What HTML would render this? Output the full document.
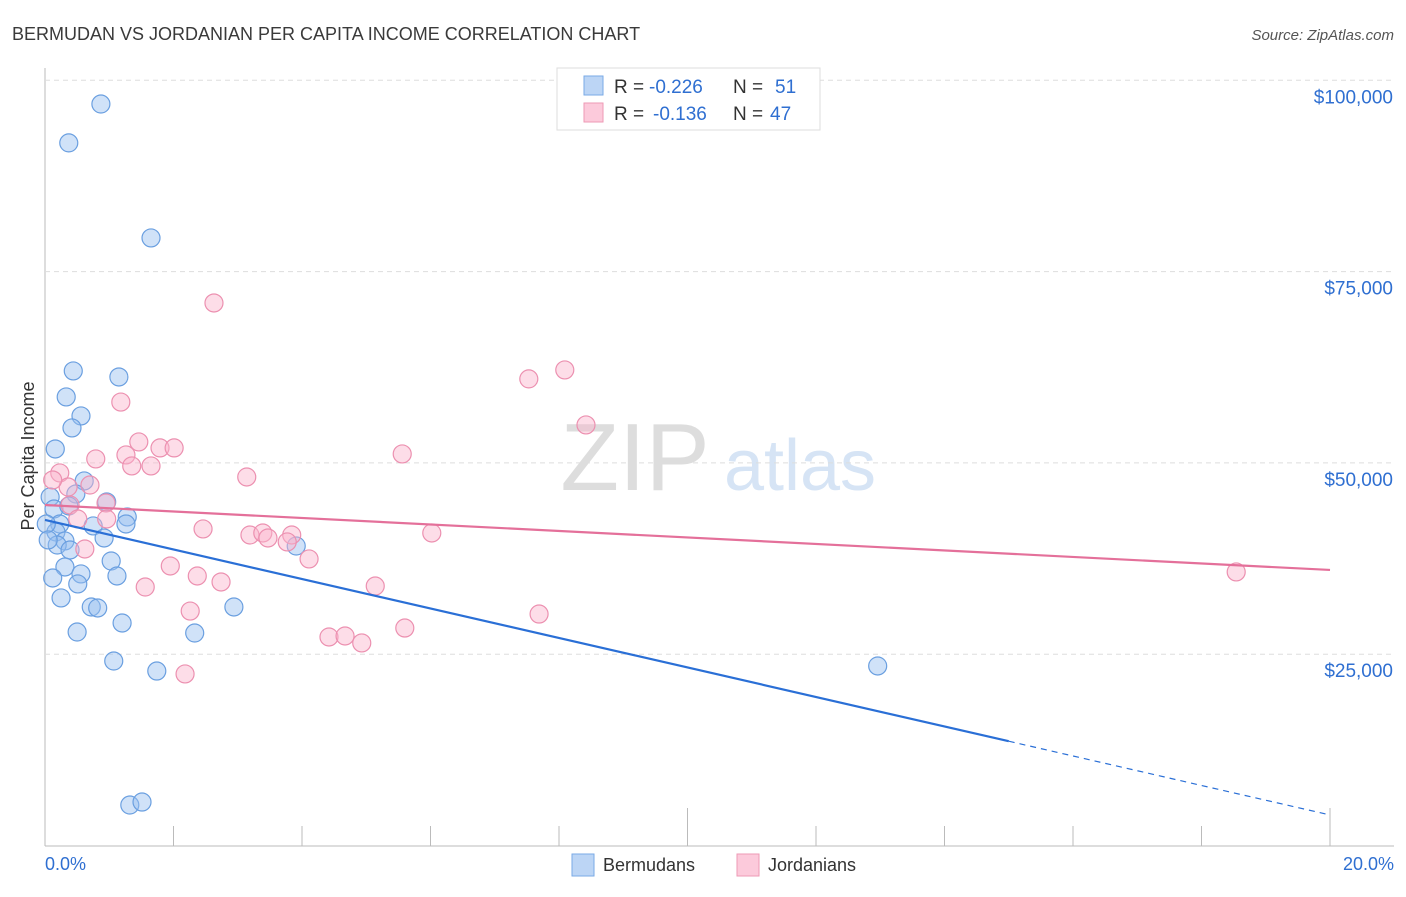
<!DOCTYPE html>
<html><head><meta charset="utf-8"><style>
body{margin:0;background:#fff;font-family:"Liberation Sans",sans-serif}
svg text{font-family:"Liberation Sans",sans-serif}
</style></head><body>
<svg id="c" width="1406" height="892" xmlns="http://www.w3.org/2000/svg">
<text x="12" y="40" font-size="18" fill="#3a3a3a" font-weight="300">BERMUDAN VS JORDANIAN PER CAPITA INCOME CORRELATION CHART</text>
<text x="1394" y="40" font-size="15" fill="#555" font-style="italic" text-anchor="end">Source: ZipAtlas.com</text>
<text x="635" y="490" font-size="96" fill="#ddd" font-family="Liberation Serif" text-anchor="middle">ZIP</text>
<text x="800" y="490" font-size="72" fill="#d6e4f5" text-anchor="middle">atlas</text>
<text transform="translate(34,456) rotate(-90)" font-size="18" fill="#333" text-anchor="middle">Per Capita Income</text>
<g id="grid"></g><g id="pts"></g><g id="trend"></g>
<g>
<rect x="557" y="68" width="263" height="62" fill="#fff" stroke="#ddd"/>
<rect x="584" y="76" width="19" height="19" fill="#bcd5f5" stroke="#7aaae6"/>
<rect x="584" y="103" width="19" height="19" fill="#fccadb" stroke="#ee9ab5"/>
<text x="614" y="93" font-size="19" fill="#333">R =</text>
<text x="649" y="93" font-size="19" fill="#2f6fd1">-0.226</text>
<text x="733" y="93" font-size="19" fill="#333">N =</text>
<text x="775" y="93" font-size="19" fill="#2f6fd1">51</text>
<text x="614" y="120" font-size="19" fill="#333">R =</text>
<text x="653" y="120" font-size="19" fill="#2f6fd1">-0.136</text>
<text x="733" y="120" font-size="19" fill="#333">N =</text>
<text x="770" y="120" font-size="19" fill="#2f6fd1">47</text>
</g>
<g>
<rect x="572" y="854" width="22" height="22" fill="#bcd5f5" stroke="#7aaae6"/>
<text x="603" y="871" font-size="18" fill="#333">Bermudans</text>
<rect x="737" y="854" width="22" height="22" fill="#fccadb" stroke="#ee9ab5"/>
<text x="768" y="871" font-size="18" fill="#333">Jordanians</text>
</g>
</svg>
<script>
const yTicks=[25000,50000,75000,100000];
const yTickLabels=["$25,000","$50,000","$75,000","$100,000"];
const xTickLabels=["0.0%","20.0%"];
const bermX=[0.87,0.37,1.65,0.44,1.15,0.33,0.56,0.42,0.16,0.61,0.48,0.96,0.08,0.14,0.37,1.28,0.75,1.26,0.23,0.17,0.92,0.31,0.19,0.39,3.91,1.03,0.31,0.56,0.12,1.12,0.51,0.25,0.72,0.82,2.94,1.20,0.50,2.33,1.07,1.74,12.96,1.32,1.51,0.02,0.05];
const bermY=[96900,91820,79400,62020,61230,58620,56140,54570,51820,47640,45940,44900,45550,43980,44370,42940,41760,42020,42020,40970,40190,39800,39270,38620,39140,37180,36400,35490,34960,35220,34180,32350,31170,31040,31170,29080,27900,27770,24110,22800,23460,5290,5680,42020,39930];
const jordX=[2.63,8.09,7.53,1.18,8.42,1.46,1.79,2.01,1.26,0.79,5.56,1.65,1.35,0.23,3.14,0.36,0.70,0.12,0.95,0.39,0.51,0.96,2.46,3.19,3.39,3.47,3.84,3.77,6.02,0.62,4.11,1.95,2.37,2.74,1.56,5.14,2.26,7.69,5.60,4.42,4.67,4.93,2.18,18.54];
const jordY=[70900,62150,60980,57950,54960,52740,51960,51960,51040,50520,51170,49600,49600,48690,48160,46850,47110,47770,44760,44500,42670,42670,41370,40580,40840,40190,40580,39670,40840,38750,37450,36530,35220,34440,33780,33910,30640,30250,28420,27250,27380,26470,22420,35750];
const bermTrend=[42540,3990];
const jordTrend=[44500,36010];
const bermSolidEnd=15;
const NS="http://www.w3.org/2000/svg";
const X=v=>45+v/20*1285, Y=v=>845.5-v/25000*191.3;
function mk(t,a,p){const e=document.createElementNS(NS,t);for(const k in a)e.setAttribute(k,a[k]);p.appendChild(e);return e;}
const g=document.getElementById('grid');
mk('line',{x1:45,y1:68,x2:45,y2:846,stroke:'#bbb'},g);
mk('line',{x1:45,y1:846,x2:1394,y2:846,stroke:'#bbb'},g);
yTicks.forEach((v,i)=>{
 const l=mk('line',{x1:45,y1:Y(v),x2:1394,y2:Y(v),stroke:'#ddd','stroke-dasharray':'5,4'},g);
 
 
 const t=mk('text',{x:1393,y:Y(v)+23,'font-size':19,fill:'#2f6fd1','text-anchor':'end'},g);
 t.textContent=yTickLabels[i];
 
 
});
for(let i=0;i<=10;i++){const x=X(i*2);mk('line',{x1:x,y1:(i==5||i==10)?808:826,x2:x,y2:846,stroke:'#bbb'},g);}
[[0,'start',45],[1,'end',1394]].forEach(([i,a,x])=>{const t=mk('text',{x:x,y:870,'font-size':18,fill:'#2f6fd1','text-anchor':a},g);t.textContent=xTickLabels[i];
 
 });
const p=document.getElementById('pts');
bermX.forEach((v,i)=>{const c=mk('circle',{cx:X(v),cy:Y(bermY[i]),r:9,fill:'rgba(150,190,240,0.45)',stroke:'#6a9fe0','stroke-width':1.2},p);
 
 });
jordX.forEach((v,i)=>{const c=mk('circle',{cx:X(v),cy:Y(jordY[i]),r:9,fill:'rgba(250,180,205,0.45)',stroke:'#ec90b0','stroke-width':1.2},p);
 
 });
const tr=document.getElementById('trend');
const bAt=x=>bermTrend[0]+(bermTrend[1]-bermTrend[0])*x/20;
let l1=mk('line',{x1:X(0),y1:Y(bermTrend[0]),x2:X(bermSolidEnd),y2:Y(bAt(bermSolidEnd)),stroke:'#2a6fd6','stroke-width':2.2},tr);


let l2=mk('line',{x1:X(bermSolidEnd),y1:Y(bAt(bermSolidEnd)),x2:X(20),y2:Y(bermTrend[1]),stroke:'#2a6fd6','stroke-width':1.2,'stroke-dasharray':'6,5'},tr);


let l3=mk('line',{x1:X(0),y1:Y(jordTrend[0]),x2:X(20),y2:Y(jordTrend[1]),stroke:'#e4709a','stroke-width':2.2},tr);


</script>
</body></html>
